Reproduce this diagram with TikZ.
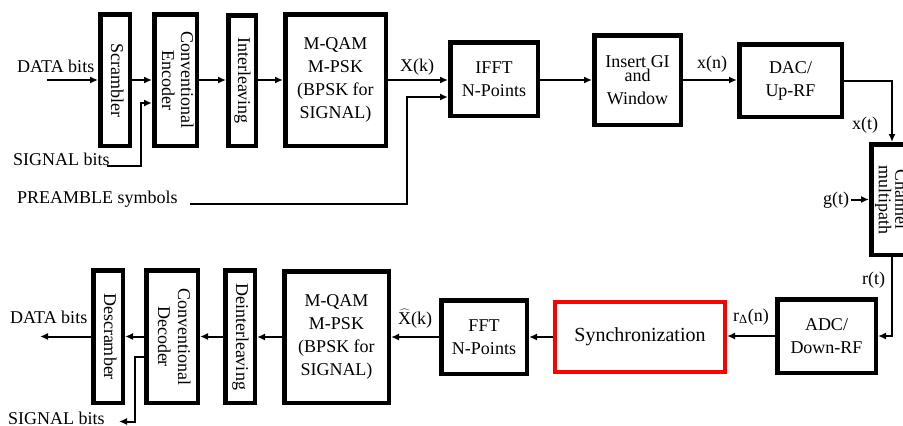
\documentclass[tikz,border=0pt]{standalone}
\usepackage{fontspec}
\setmainfont{Liberation Serif}
\usepackage{graphicx}
\usetikzlibrary{arrows.meta}
\newcommand{\vtxt}[2][19]{\rotatebox{-90}{\fontsize{18}{#1}\selectfont\begin{tabular}{@{}c@{}}#2\end{tabular}}}
\begin{document}
\begin{tikzpicture}[x=1pt,y=-1pt,
  blk/.style={draw,line width=4.5pt,inner sep=0pt,align=center,font=\fontsize{18}{23}\selectfont},
  lbl/.style={inner sep=0pt,anchor=base west,font=\fontsize{18}{23}\selectfont},
  arr/.style={line width=2pt,-{Latex[length=8pt,width=7pt]}}]
\useasboundingbox (0,0) rectangle (903,426);
\begin{scope}
\clip (0,0) rectangle (903,426);
% ---------- transmitter ----------
\node[blk,minimum width=29.5pt,minimum height=131.5pt] (scr) at (115,80) {\vtxt{Scrambler}};
\node[blk,minimum width=42.5pt,minimum height=131.5pt] (enc) at (175.5,80) {\vtxt{Conventional\\Encoder}};
\node[blk,minimum width=27.5pt,minimum height=130.5pt] (intl) at (242,80.5) {\vtxt{Interleaving}};
\node[blk,minimum width=100.5pt,minimum height=131.5pt] (mod) at (335.5,80) {M-QAM\\M-PSK\\(BPSK for\\SIGNAL)};
\node[blk,minimum width=87.5pt,minimum height=73.5pt] (ifft) at (494,79) {IFFT\\N-Points};
\node[blk,minimum width=86.5pt,minimum height=89.5pt] (gi) at (637.5,80) {Insert GI\\[-9pt]and\\Window};
\node[blk,minimum width=102.5pt,minimum height=72.5pt] (dac) at (790.5,80.5) {DAC/\\Up-RF};
\node[blk,minimum width=40pt,minimum height=110.5pt] (chan) at (891.25,199.5) {\vtxt[14]{Channel\\multipath}};
% ---------- receiver ----------
\node[blk,minimum width=98.5pt,minimum height=73.5pt] (adc) at (826.5,336) {ADC/\\Down-RF};
\node[blk,draw=red,line width=4pt,minimum width=170pt,minimum height=70pt,font=\fontsize{20}{24}\selectfont] (sync) at (640,337) {Synchronization};
\node[blk,minimum width=85.5pt,minimum height=73.5pt] (fft) at (484,337) {FFT\\N-Points};
\node[blk,minimum width=104.5pt,minimum height=131.5pt] (dmod) at (336.5,337) {M-QAM\\M-PSK\\(BPSK for\\SIGNAL)};
\node[blk,minimum width=29.5pt,minimum height=132.5pt] (dint) at (240,336.5) {\vtxt{Deinterleaving}};
\node[blk,minimum width=51.5pt,minimum height=132.5pt] (dec) at (172,336.5) {\vtxt[20]{Conventional\\Decoder}};
\node[blk,minimum width=29.5pt,minimum height=132.5pt] (dscr) at (108,336.5) {\vtxt{Descramber}};
% ---------- labels ----------
\node[lbl] (ldata) at (17,72) {DATA bits};
\node[lbl] (lsig) at (13,165) {SIGNAL bits};
\node[lbl] (lpre) at (17,203) {PREAMBLE symbols};
\node[lbl] (lxk) at (400,71) {X(k)};
\node[lbl] (lxn) at (697,68) {x(n)};
\node[lbl] (lxt) at (852,129) {x(t)};
\node[lbl] (lgt) at (823,204) {g(t)};
\node[lbl] (lrt) at (862,284) {r(t)};
\node[lbl] (lrn) at (733,321) {r\textsubscript{Δ}(n)};
\node[lbl] (lxh) at (398,324) {$\widehat{\mbox{X}}$(k)};
\node[lbl] (ldout) at (10,323) {DATA bits};
\node[lbl] (lsout) at (8,424) {SIGNAL bits};
% ---------- coordinates ----------
\coordinate (din) at (47,80);
\coordinate (s1) at (107,166);
\coordinate (s2) at (141,103);
\coordinate (p1) at (190,204);
\coordinate (p2) at (407,97);
\coordinate (rx) at (892,0);
\coordinate (gs) at (851,0);
\coordinate (dout) at (40,0);
\coordinate (sc1) at (135,357);
\coordinate (sout) at (119,421.5);
% ---------- connectors ----------
\draw[arr] (din) -- (scr.west);
\draw[arr] (scr.east) -- (enc.west);
\draw[arr] (s1) -| (s2) -- (s2 -| enc.west);
\draw[arr] (enc.east) -- (enc.east -| intl.west);
\draw[arr] (mod.west -| intl.east) -- (mod.west);
\draw[arr] (mod.east) -- (mod.east -| ifft.west);
\draw[arr] (p1) -| (p2) -- (p2 -| ifft.west);
\draw[arr] (gi.west -| ifft.east) -- (gi.west);
\draw[arr] (gi.east) -- (gi.east -| dac.west);
\draw[arr] (dac.east) -| (rx |- chan.north);
\draw[arr] (gs |- chan.west) -- (chan.west);
\draw[arr] (rx |- chan.south) |- (adc.east);
\draw[arr] (adc.west) -- (adc.west -| sync.east);
\draw[arr] (sync.west) -- (sync.west -| fft.east);
\draw[arr] (fft.west) -- (fft.west -| dmod.east);
\draw[arr] (dmod.west) -- (dmod.west -| dint.east);
\draw[arr] (dint.west) -- (dint.west -| dec.east);
\draw[arr] (dec.west) -- (dec.west -| dscr.east);
\draw[arr] (dscr.west) -- (dout |- dscr.west);
\draw[arr] (sc1 -| dec.west) -- (sc1) |- (sout);
\end{scope}
\end{tikzpicture}
\end{document}
